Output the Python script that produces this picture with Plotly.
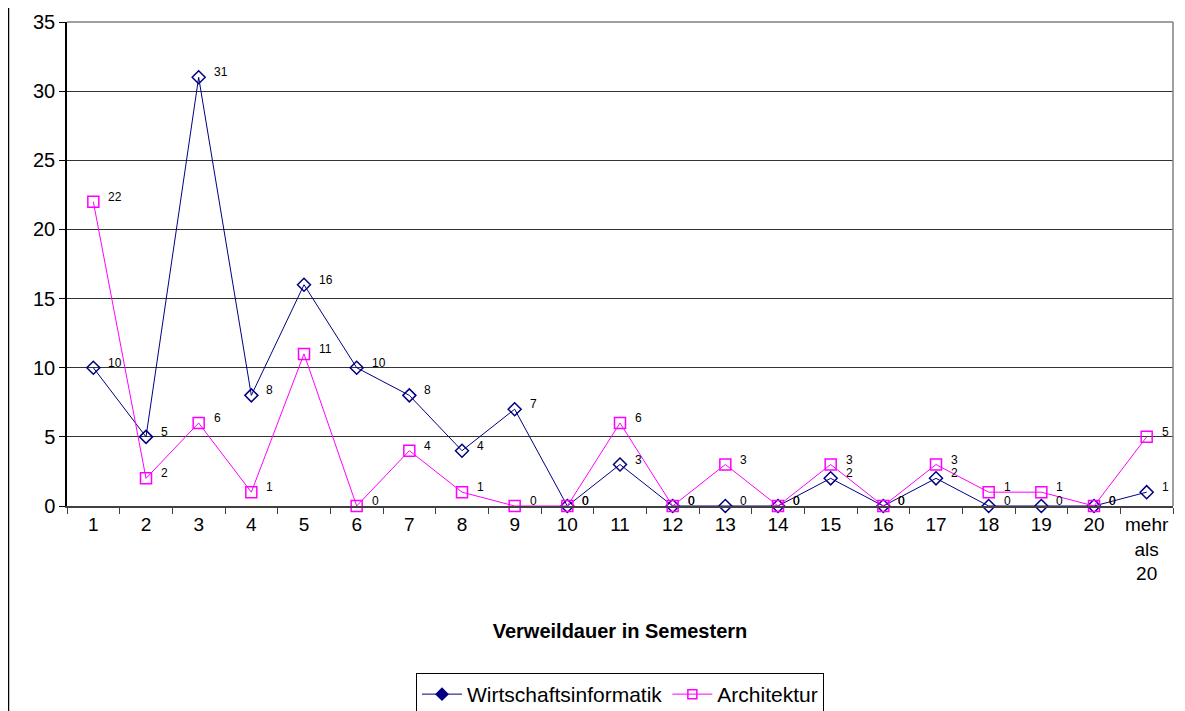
import plotly.graph_objects as go

# Verweildauer in Semestern
categories = [str(i) for i in range(1, 21)] + ["mehr<br>als<br>20"]
wirtschaftsinformatik = [10, 5, 31, 8, 16, 10, 8, 4, 7, 0, 3, 0, 0, 0, 2, 0, 2, 0, 0, 0, 1]
architektur = [22, 2, 6, 1, 11, 0, 4, 1, 0, 0, 6, 0, 3, 0, 3, 0, 3, 1, 1, 0, 5]

NAVY = "#000080"
MAGENTA = "#FF00FF"
FONT = "Liberation Sans, Arial, sans-serif"

fig = go.Figure()

series = [
    ("Wirtschaftsinformatik", wirtschaftsinformatik, NAVY, "diamond-open", "diamond", 10),
    ("Architektur", architektur, MAGENTA, "square-open", "square-open", 11),
]

for name, values, color, sym, legend_sym, size in series:
    fig.add_trace(go.Scatter(
        x=categories, y=values, mode="lines+markers", name=name,
        line=dict(color=color, width=1),
        marker=dict(symbol=sym, size=size, color=color, line=dict(color=color, width=1.5)),
        showlegend=False, cliponaxis=False,
    ))
    # legend entry only (Excel shows a filled diamond in the legend)
    fig.add_trace(go.Scatter(
        x=[categories[0]], y=[None], mode="lines+markers", name=name,
        line=dict(color=color, width=1),
        marker=dict(symbol=legend_sym, size=9, color=color, line=dict(color=color, width=1.5)),
    ))

# data labels to the right of each point (category index on the x axis)
for name, values, color, sym, legend_sym, size in series:
    for i, v in enumerate(values):
        fig.add_annotation(
            x=i, y=v, text=str(v), showarrow=False,
            xanchor="left", yanchor="middle", xshift=13, yshift=5,
            font=dict(family=FONT, size=12, color="black"),
        )

# outer chart border on the left
fig.add_shape(type="line", xref="paper", yref="paper",
              x0=-0.0529, x1=-0.0529, y0=-0.5, y1=1.05,
              line=dict(color="black", width=1.5))

# plot area border: gray top and right edges
fig.add_shape(type="line", xref="paper", yref="paper", x0=0, x1=1, y0=1, y1=1,
              line=dict(color="#808080", width=1.5))
fig.add_shape(type="line", xref="paper", yref="paper", x0=1, x1=1, y0=0, y1=1,
              line=dict(color="#808080", width=1.5))

fig.update_layout(
    width=1185, height=711,
    margin=dict(l=59, r=20, t=14, b=213, autoexpand=False),
    paper_bgcolor="white", plot_bgcolor="white",
    font=dict(family=FONT, size=18, color="black"),
    showlegend=True,
    legend=dict(
        orientation="h", x=0.5, xanchor="center", y=-0.345, yanchor="top",
        bordercolor="black", borderwidth=1, bgcolor="white",
        font=dict(family=FONT, size=21), itemwidth=40,
    ),
    xaxis=dict(
        type="category", categoryorder="array", categoryarray=categories,
        range=[-0.5, len(categories) - 0.5],
        tickson="boundaries", ticks="outside", ticklen=6, tickcolor="#404040",
        showgrid=False, showline=True, linecolor="#404040", linewidth=2,
        automargin=False, tickangle=0, tickfont=dict(size=19),
        title=dict(text="<b>Verweildauer in Semestern</b>",
                   font=dict(family=FONT, size=20), standoff=41),
    ),
    yaxis=dict(
        range=[0, 35], dtick=5, ticks="outside", ticklen=6, tickcolor="black",
        showgrid=True, gridcolor="#333333", gridwidth=1,
        showline=True, linecolor="black", linewidth=1.5,
        zeroline=False, automargin=False, tickfont=dict(size=20),
    ),
)

fig.write_html("out.html")
